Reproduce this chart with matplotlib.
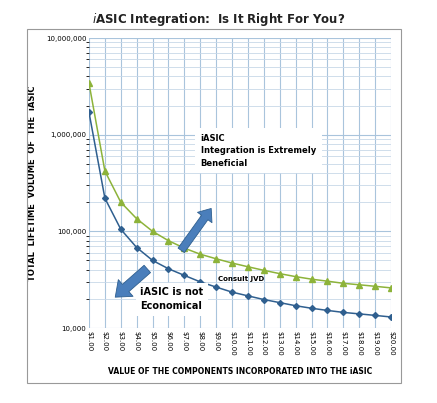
import matplotlib
matplotlib.use("Agg")
import matplotlib.pyplot as plt
from matplotlib.patches import Rectangle
from matplotlib.ticker import LogLocator, NullFormatter

prices = [1,2,3,4,5,6,7,8,9,10,11,12,13,14,15,16,17,18,19,20]
xlabels = [f"${p}.00" for p in prices]
blue = [1700000,220000,105000,68000,50000,41000,35000,30000,26500,23500,21500,19700,18300,17000,16000,15200,14500,14000,13500,13000]
green = [3400000,420000,200000,135000,100000,80000,67000,58000,52000,47000,43000,39500,36500,34000,32000,30500,29000,28000,27000,26000]

W,H = 437,403
fig = plt.figure(figsize=(W/100,H/100), dpi=100)
fig.patch.set_facecolor("white")
fig.add_artist(Rectangle((27/W,1-383/H),(401-27)/W,(383-29)/H,transform=fig.transFigure,fill=False,ec="#999999",lw=0.8))
fig.text(0.5,1-19/H,r"$\it{i}$ASIC Integration:  Is It Right For You?",ha="center",va="center",fontsize=8.5,fontweight="bold",color="#222222")
ax = fig.add_axes([89/W,1-328/H,(391-89)/W,(328-38)/H])
ax.set_yscale("log")
ax.set_ylim(1e4,1e7)
ax.set_xlim(1,20)
ax.plot(prices,green,color="#8db33a",marker="^",ms=4,lw=1.1)
ax.plot(prices,blue,color="#2f5f8f",marker="D",ms=3,lw=1.1)
ax.set_xticks(prices)
ax.set_xticklabels(xlabels,rotation=-90,fontsize=5)
ax.set_yticks([1e4,1e5,1e6,1e7])
ax.set_yticklabels(["10,000","100,000","1,000,000","10,000,000"],fontsize=5)
ax.yaxis.set_minor_locator(LogLocator(base=10,subs=range(2,10)))
ax.yaxis.set_minor_formatter(NullFormatter())
ax.grid(True,which="major",color="#a9c4dc",lw=0.8)
ax.grid(True,which="minor",axis="y",color="#c8d8e8",lw=0.6)
for s in ax.spines.values(): s.set_visible(False)
ax.tick_params(length=0,pad=2)
ax.set_xlabel("VALUE OF THE COMPONENTS INCORPORATED INTO THE iASIC",fontsize=5.5,fontweight="bold",labelpad=8)
ax.set_ylabel("TOTAL  LIFETIME  VOLUME  OF  THE  iASIC",fontsize=6,fontweight="bold",labelpad=6)
ax.text(0.37,0.67,"iASIC\nIntegration is Extremely\nBeneficial",transform=ax.transAxes,fontsize=6,fontweight="bold",va="top",linespacing=1.5,
        bbox=dict(fc="white",ec="none",pad=4))
ax.text(0.17,0.14,"iASIC is not\nEconomical",transform=ax.transAxes,fontsize=7,fontweight="bold",va="top",linespacing=1.5,
        bbox=dict(fc="white",ec="none",pad=3))
ax.text(9.1,32000,"Consult JVD",fontsize=5,fontweight="bold",va="center")
aprops = dict(arrowstyle="simple,head_width=1.6,head_length=1.0,tail_width=0.7",fc="#4a7ebb",ec="#2f5f8f",lw=0.6)
ax.annotate("",xy=(0.41,0.42),xytext=(0.30,0.26),xycoords="axes fraction",arrowprops=dict(mutation_scale=8,**aprops))
ax.annotate("",xy=(0.08,0.10),xytext=(0.20,0.21),xycoords="axes fraction",arrowprops=dict(mutation_scale=10,**aprops))
fig.savefig("out.png",dpi=100)
